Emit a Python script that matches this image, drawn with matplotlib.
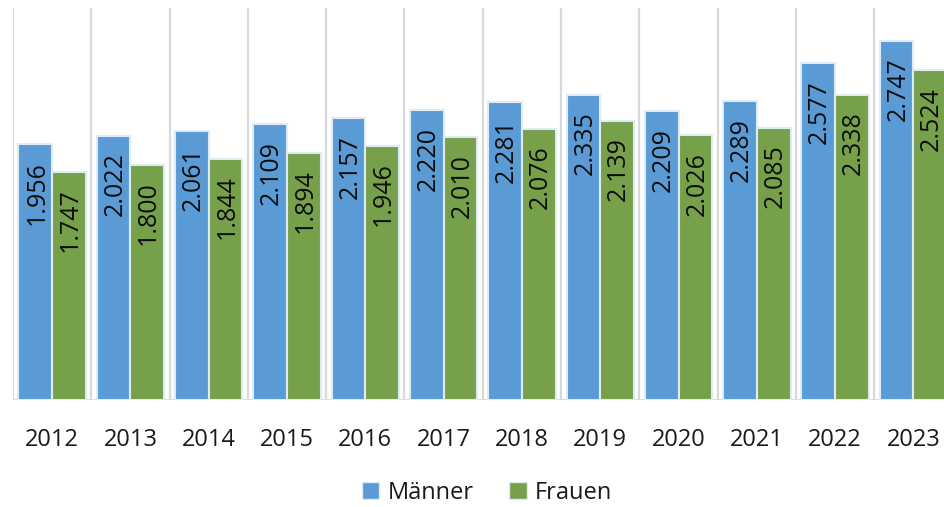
import numpy as np
import matplotlib.pyplot as plt
from matplotlib.patches import Patch

years = ["2012", "2013", "2014", "2015", "2016", "2017",
         "2018", "2019", "2020", "2021", "2022", "2023"]
maenner = [1956, 2022, 2061, 2109, 2157, 2220, 2281, 2335, 2209, 2289, 2577, 2747]
frauen = [1747, 1800, 1844, 1894, 1946, 2010, 2076, 2139, 2026, 2085, 2338, 2524]

blue = "#5B9BD5"
green = "#77A04A"
edge = "#DDEBF7"
grid = "#D9D9D9"

plt.rcParams['font.family'] = ['Open Sans', 'DejaVu Sans']

fig = plt.figure(figsize=(9.44, 5.07), dpi=100)
# axes runs past the right edge, as in the cropped original
ax = fig.add_axes([13 / 944, 107 / 507, 939.6 / 944, 392 / 507])

x = np.arange(len(years))
w = 0.43
b1 = ax.bar(x - w / 2, maenner, w, color=blue, edgecolor=edge, linewidth=1.5, zorder=3)
b2 = ax.bar(x + w / 2, frauen, w, color=green, edgecolor=edge, linewidth=1.5, zorder=3)

def fmt(v):
    return f"{v:,}".replace(",", ".")

for bars, vals in ((b1, maenner), (b2, frauen)):
    for r, v in zip(bars, vals):
        ax.annotate(fmt(v), (r.get_x() + r.get_width() / 2, v),
                    xytext=(1, -12), textcoords="offset points",
                    rotation=90, ha="center", va="top",
                    fontsize=18, color="#0d0d0d", zorder=4)

ax.set_xlim(-0.5, len(years) - 0.5)
ax.set_ylim(0, 3000)
for b in np.arange(-0.5, len(years), 1):
    ax.axvline(b, color=grid, linewidth=1.6, zorder=1)
ax.axhline(0, color=grid, linewidth=2, zorder=2)

ax.set_xticks(x)
ax.set_xticklabels(years, fontsize=17, color="#1a1a1a")
ax.tick_params(axis="x", length=0, pad=20)
ax.set_yticks([])
for s in ax.spines.values():
    s.set_visible(False)

handles = [Patch(facecolor=blue, edgecolor=edge, label="Männer"),
           Patch(facecolor=green, edgecolor=edge, label="Frauen")]
fig.legend(handles=handles, loc="center", bbox_to_anchor=(0.516, 0.028),
           ncol=2, frameon=False, fontsize=17, handlelength=0.75,
           handleheight=0.75, handletextpad=0.35, columnspacing=1.5,
           labelcolor="#1a1a1a")

fig.savefig("out.png", dpi=100)
